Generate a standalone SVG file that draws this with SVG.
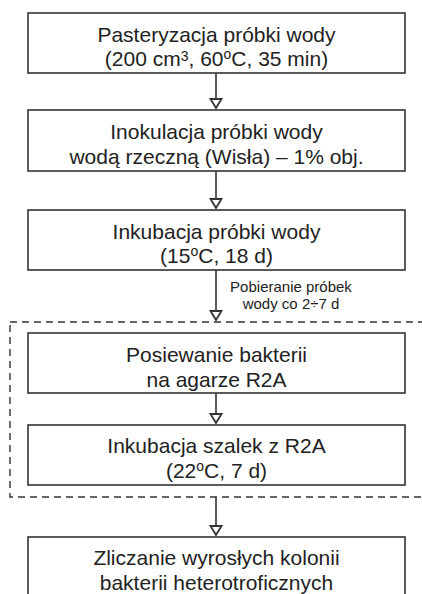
<svg xmlns="http://www.w3.org/2000/svg" width="422" height="594" viewBox="0 0 422 594">
<defs>
<style>
.box{fill:#fff;stroke:#333;stroke-width:1.6}
.t{font-family:"Liberation Sans",Arial,sans-serif;font-size:21px;fill:#222;text-anchor:middle}
.s{font-family:"Liberation Sans",Arial,sans-serif;font-size:15px;fill:#222;text-anchor:middle}
.ln{stroke:#333;stroke-width:1.6;fill:none}
.hd{fill:#fff;stroke:#333;stroke-width:1.8}
.sup{font-size:14px}
</style>
</defs>
<rect width="422" height="594" fill="#fff"/>
<g id="connectors">
<rect x="10" y="322" width="430" height="175" fill="none" stroke="#333" stroke-width="1.4" stroke-dasharray="7,5"/>
<line class="ln" x1="216" y1="73" x2="216" y2="99"/><polygon class="hd" points="210.5,99 221.5,99 216,108"/>
<line class="ln" x1="216" y1="171" x2="216" y2="199"/><polygon class="hd" points="210.5,199 221.5,199 216,208"/>
<line class="ln" x1="216" y1="270" x2="216" y2="311"/><polygon class="hd" points="210.5,311 221.5,311 216,320"/>
<line class="ln" x1="216" y1="393" x2="216" y2="414"/><polygon class="hd" points="210.5,414 221.5,414 216,423"/>
<line class="ln" x1="216" y1="497" x2="216" y2="526"/><polygon class="hd" points="210.5,526 221.5,526 216,535"/>
<text class="s" x="291" y="292">Pobieranie próbek</text>
<text class="s" x="291" y="309">wody co 2÷7 d</text>
</g>
<g id="n1"><rect class="box" x="28" y="13" width="377" height="60"/>
<text class="t" x="216.5" y="42">Pasteryzacja próbki wody</text>
<text class="t" x="216.5" y="66">(200 cm<tspan class="sup" dy="-5">3</tspan><tspan dy="5">, 60</tspan><tspan class="sup" dy="-7">o</tspan><tspan dy="7">C, 35 min)</tspan></text></g>
<g id="n2"><rect class="box" x="28" y="110" width="377" height="61"/>
<text class="t" x="216.5" y="139">Inokulacja próbki wody</text>
<text class="t" x="216.5" y="164">wodą rzeczną (Wisła) – 1% obj.</text></g>
<g id="n3"><rect class="box" x="28" y="210" width="377" height="60"/>
<text class="t" x="216.5" y="239">Inkubacja próbki wody</text>
<text class="t" x="216.5" y="263">(15<tspan class="sup" dy="-7">o</tspan><tspan dy="7">C, 18 d)</tspan></text></g>
<g id="n4"><rect class="box" x="28" y="333" width="377" height="60"/>
<text class="t" x="216.5" y="362">Posiewanie bakterii</text>
<text class="t" x="216.5" y="387">na agarze R2A</text></g>
<g id="n5"><rect class="box" x="28" y="425" width="377" height="60"/>
<text class="t" x="216.5" y="453">Inkubacja szalek z R2A</text>
<text class="t" x="216.5" y="478">(22<tspan class="sup" dy="-7">o</tspan><tspan dy="7">C, 7 d)</tspan></text></g>
<g id="n6"><rect class="box" x="28" y="537" width="377" height="70"/>
<text class="t" x="216.5" y="565">Zliczanie wyrosłych kolonii</text>
<text class="t" x="216.5" y="590">bakterii heterotroficznych</text></g>
</svg>
